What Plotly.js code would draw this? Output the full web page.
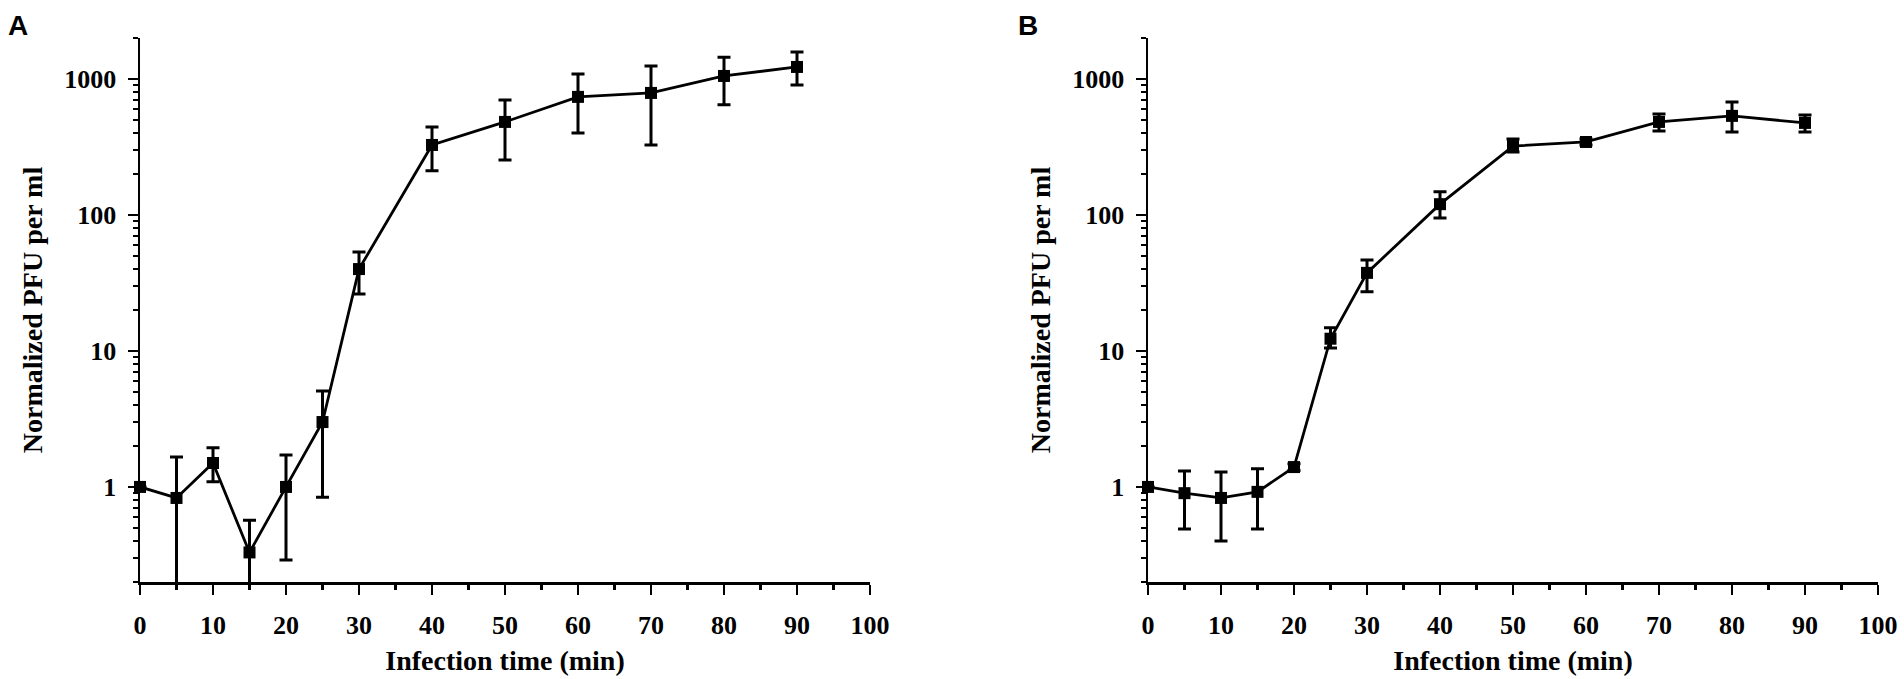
<!DOCTYPE html>
<html>
<head>
<meta charset="utf-8">
<script src="https://cdn.plot.ly/plotly-3.0.1.min.js"></script>
<style>
  html, body { margin: 0; padding: 0; background: #fff; }
  #chart { width: 1904px; height: 679px; }
</style>
</head>
<body>
<div id="chart"></div>
<script>
// infection time (min), shared by both panels
const times = [0, 5, 10, 15, 20, 25, 30, 40, 50, 60, 70, 80, 90];

// panel A: normalized PFU per ml, with the error bar ends
const meanA = [1.0, 0.83, 1.5, 0.33, 1.0, 3.0, 40, 327, 483, 738, 789, 1052, 1225];
const highA = [1.0, 1.66, 1.94, 0.57, 1.72, 5.08, 53.5, 444, 701, 1088, 1247, 1445, 1580];
const lowA = [1.0, 0.1, 1.09, 0.1, 0.29, 0.84, 26.2, 211, 254, 401, 327, 645, 903];

// panel B
const meanB = [1.0, 0.90, 0.83, 0.92, 1.40, 12.3, 37.5, 120, 321, 344, 483, 535, 475];
const highB = [1.0, 1.31, 1.29, 1.36, 1.48, 14.8, 46.7, 148, 362, 362, 553, 678, 543];
const lowB = [1.0, 0.49, 0.40, 0.49, 1.32, 10.5, 27.2, 95, 290, 327, 415, 408, 408];

const xTicks = [0, 10, 20, 30, 40, 50, 60, 70, 80, 90, 100];
const yTicks = [1, 10, 100, 1000];

const serif = 'Liberation Serif, Times New Roman, serif';

function series(mean, high, low, xaxis, yaxis) {
  return {
    x: times,
    y: mean,
    xaxis,
    yaxis,
    type: 'scatter',
    mode: 'lines+markers',
    line: { color: '#000', width: 2.8 },
    marker: { symbol: 'square', size: 12, color: '#000' },
    error_y: {
      type: 'data',
      symmetric: false,
      array: high.map((h, i) => h - mean[i]),
      arrayminus: low.map((l, i) => mean[i] - l),
      color: '#000',
      thickness: 3,
      width: 6.5,
    },
    cliponaxis: false,
    hoverinfo: 'x+y',
  };
}

function xAxis(domain, anchor) {
  return {
    domain,
    anchor,
    range: [0, 100],
    tickvals: xTicks,
    ticks: 'outside',
    ticklen: 10,
    tickwidth: 2.5,
    tickcolor: '#000',
    minor: { dtick: 5, ticks: 'outside', ticklen: 5, tickwidth: 2.5, tickcolor: '#000', showgrid: false },
    showline: true,
    linecolor: '#000',
    linewidth: 2.5,
    showgrid: false,
    zeroline: false,
    ticklabelstandoff: 8,
    tickfont: { family: serif, size: 26, color: '#000', weight: 'bold' },
    title: {
      text: 'Infection time (min)',
      font: { family: serif, size: 28, color: '#000', weight: 'bold' },
      standoff: 12,
    },
  };
}

function yAxis(anchor) {
  return {
    anchor,
    domain: [0, 1],
    type: 'log',
    range: [Math.log10(0.2), Math.log10(2000)],
    tickvals: yTicks,
    ticktext: yTicks.map(String),
    ticks: 'outside',
    ticklen: 10,
    tickwidth: 2.5,
    tickcolor: '#000',
    minor: { dtick: 'D1', ticks: 'outside', ticklen: 5, tickwidth: 2, tickcolor: '#000', showgrid: false },
    showline: true,
    linecolor: '#000',
    linewidth: 2.5,
    showgrid: false,
    zeroline: false,
    ticklabelstandoff: 6,
    tickfont: { family: serif, size: 26, color: '#000', weight: 'bold' },
    title: {
      text: 'Normalized PFU per ml',
      font: { family: serif, size: 28, color: '#000', weight: 'bold' },
      standoff: 14,
    },
  };
}

const panelLabel = (text, x) => ({
  text,
  xref: 'paper',
  yref: 'paper',
  x,
  y: 1.055,
  xanchor: 'left',
  yanchor: 'top',
  showarrow: false,
  font: { family: 'Liberation Sans, Arial, sans-serif', size: 28, color: '#000', weight: 'bold' },
});

const layout = {
  width: 1904,
  height: 679,
  margin: { l: 0, r: 0, t: 38, b: 97 },
  paper_bgcolor: '#fff',
  plot_bgcolor: '#fff',
  showlegend: false,
  xaxis: xAxis([140 / 1904, 870 / 1904], 'y'),
  yaxis: yAxis('x'),
  xaxis2: xAxis([1148 / 1904, 1878 / 1904], 'y2'),
  yaxis2: yAxis('x2'),
  annotations: [
    panelLabel('A', 6 / 1904),
    panelLabel('B', 1016 / 1904),
  ],
};

Plotly.newPlot('chart', [
  series(meanA, highA, lowA, 'x', 'y'),
  series(meanB, highB, lowB, 'x2', 'y2'),
], layout, { displayModeBar: false, staticPlot: true });
</script>
</body>
</html>
